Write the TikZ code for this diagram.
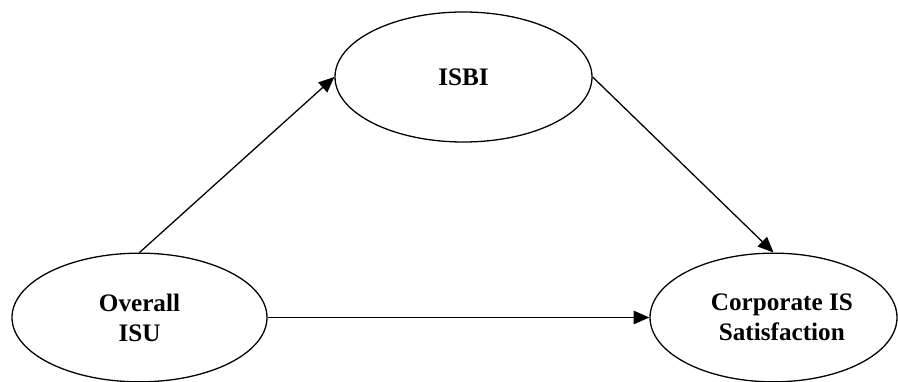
\documentclass[tikz,border=0pt]{standalone}
\usepackage{fontspec}
\setmainfont{Liberation Serif}
\usepackage{tikz}
\usetikzlibrary{shapes.geometric, arrows.meta, positioning}

\begin{document}
\begin{tikzpicture}[
    construct/.style={ellipse, draw=black, line width=1.1pt, inner sep=0pt, minimum width=7.65cm, minimum height=3.86cm, align=center, font=\fontsize{21.5}{25.6}\selectfont\bfseries},
    arrow/.style={-{Triangle[length=0.47cm, width=0.4cm]}, line width=1.1pt, draw=black}
]
    \useasboundingbox (0,0) rectangle (26.94,11.43);

    % The three constructs
    \node (isbi) [construct, minimum width=7.71cm, minimum height=3.9cm] at (13.905,9.12) {ISBI};
    \node (isu) [construct] at (4.185,1.905) {Overall\\ISU};
    \node (corp) [construct, minimum width=7.41cm] at (23.205,1.905) {\hspace*{0.5cm}Corporate IS\\\hspace*{0.5cm}Satisfaction};

    % Paths
    \draw [arrow] (isu.north) -- (isbi.west);
    \draw [arrow] (isbi.east) -- (corp.north);
    \draw [arrow, line width=1.3pt] (isu.east) -- (corp.west);

\end{tikzpicture}
\end{document}
